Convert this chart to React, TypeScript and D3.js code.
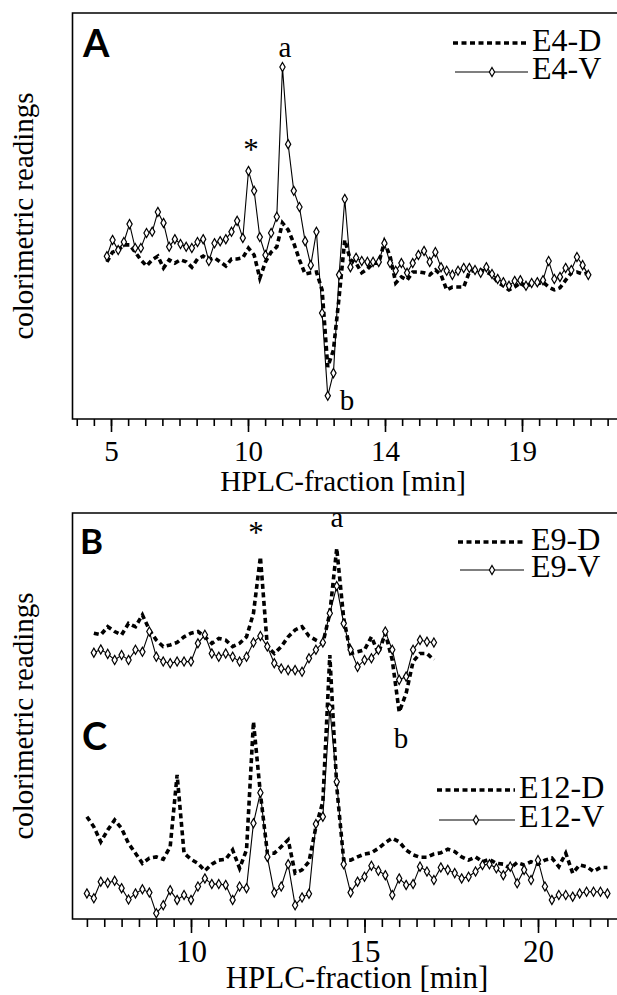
import * as d3 from 'd3'
import React, { useRef, useEffect } from 'react'

// colorimetric readings of HPLC fractions (arbitrary units, 0-100 per panel)
// panel A: E4 dorsal / ventral
const e4Start = 4.85
const e4Step = 0.2067
const e4D = [38.7, 41.1, 41.6, 42.9, 42.9, 41.1, 39.2, 37.7, 39.2, 40.1,
  37.2, 39.2, 38.4, 39.2, 38.7, 37.4, 39.4, 40.1, 39.2, 39.7,
  38.7, 37.7, 39.4, 39.4, 39.7, 42.1, 40.4, 34.7, 38.7, 41.1,
  42.4, 48.3, 46.6, 43.3, 39.2, 35.7, 36.0, 36.2, 31.8, 12.8,
  17.0, 30.0, 44.1, 39.2, 38.4, 36.0, 36.9, 38.4, 38.4, 43.6,
  40.1, 33.5, 35.0, 34.2, 36.2, 36.2, 36.0, 35.5, 36.7, 35.5,
  31.8, 32.5, 32.5, 32.5, 36.2, 36.7, 36.7, 36.2, 35.5, 33.7,
  32.8, 31.8, 32.5, 33.5, 32.5, 33.5, 33.3, 33.7, 32.5, 31.8,
  32.3, 34.2, 36.0, 36.2, 35.7, 36.0]
const e4V = [40.1, 44.1, 41.6, 43.6, 48.0, 42.1, 42.1, 45.8, 46.1, 51.0,
  48.3, 42.4, 44.3, 43.1, 42.4, 42.1, 43.6, 44.3, 38.9, 43.3,
  43.8, 44.3, 46.1, 48.8, 44.6, 61.1, 56.2, 44.8, 40.4, 45.8,
  49.8, 86.7, 67.7, 56.2, 52.2, 43.8, 37.9, 46.1, 26.1, 5.7,
  11.3, 35.5, 54.2, 37.4, 39.7, 38.9, 38.7, 38.7, 38.7, 43.3,
  38.4, 36.5, 38.4, 36.0, 38.4, 40.4, 41.4, 38.7, 41.1, 37.4,
  36.5, 35.5, 36.5, 37.2, 37.2, 36.7, 36.0, 37.4, 35.7, 34.5,
  33.7, 32.8, 34.0, 34.2, 32.8, 33.5, 33.7, 34.2, 38.9, 34.5,
  35.0, 37.2, 36.7, 39.9, 37.9, 35.5]

// panels B and C share one frame, fractions every 0.2 min
const fractionStep = 0.2
const e9Start = 7.2
const e9D = [70.4, 70.0, 72.0, 70.8, 70.0, 72.8, 72.0, 74.9, 71.2, 68.7,
  67.1, 67.5, 68.1, 69.5, 70.4, 70.8, 69.5, 67.9, 69.1, 68.7,
  67.1, 67.9, 69.5, 75.3, 89.2, 67.1, 65.4, 67.1, 69.5, 71.2,
  72.0, 69.7, 68.7, 67.9, 75.3, 91.3, 74.1, 65.4, 65.8, 66.3,
  69.5, 65.4, 70.4, 63.8, 51.0, 55.6, 63.4, 65.4, 65.4, 63.8]
const e9V = [65.6, 66.4, 65.3, 63.8, 65.0, 63.8, 66.3, 65.8, 70.8, 64.6,
  63.4, 63.0, 63.4, 63.4, 63.4, 67.9, 70.0, 65.4, 64.6, 65.4,
  64.6, 63.4, 64.6, 68.1, 69.7, 67.1, 63.0, 61.7, 61.3, 61.3,
  60.9, 64.2, 66.3, 68.1, 75.3, 82.0, 72.8, 66.3, 62.1, 63.8,
  64.2, 66.3, 70.8, 66.3, 58.9, 59.7, 66.3, 68.7, 68.3, 68.1]
const e12Start = 7.0
const e12D = [25.2, 22.7, 19.0, 21.9, 24.4, 22.3, 18.6, 16.2, 13.7, 15.0,
  15.3, 14.7, 17.8, 35.5, 16.2, 14.7, 13.7, 11.9, 13.5, 14.5,
  14.7, 17.0, 12.5, 17.0, 48.6, 30.9, 16.3, 16.2, 17.8, 19.5,
  11.3, 12.1, 14.1, 22.7, 28.9, 65.0, 32.6, 14.5, 14.5, 15.3,
  16.0, 16.3, 17.4, 18.8, 19.9, 19.0, 17.0, 15.8, 15.2, 15.2,
  16.0, 16.3, 17.2, 16.6, 15.3, 14.5, 15.3, 14.1, 14.7, 13.7,
  13.5, 12.5, 13.9, 13.3, 14.1, 13.5, 14.5, 15.0, 12.9, 16.2,
  11.3, 13.3, 12.9, 11.7, 12.7, 12.7]
const e12V = [6.3, 5.1, 9.2, 8.9, 9.4, 7.6, 4.8, 6.3, 7.3, 6.5,
  1.4, 3.4, 7.1, 4.7, 5.9, 4.7, 8.0, 10.0, 8.6, 8.6,
  8.4, 4.7, 8.0, 7.6, 23.6, 31.1, 15.3, 6.5, 8.0, 13.5,
  3.4, 5.3, 6.2, 23.4, 25.2, 51.9, 33.8, 13.5, 6.5, 9.2,
  10.4, 13.1, 11.9, 10.8, 5.9, 10.0, 8.4, 8.6, 12.9, 11.7,
  9.6, 12.7, 12.1, 11.3, 10.0, 10.4, 11.7, 13.3, 13.5, 12.5,
  10.8, 12.9, 8.8, 12.1, 9.6, 14.5, 8.0, 4.7, 5.9, 5.9,
  5.5, 6.3, 6.7, 6.7, 6.7, 6.3]

// axis ticks
const topMajor = [5, 10, 15, 20]
const topMajorLabels = ['5', '10', '14', '19']
const topMinor = d3.range(3.75, 23.4, 0.625)
const bottomMajor = [10, 15, 20]
const bottomMinor = d3.range(7, 22.3, 0.5)

const W = 617
const H = 995
const serif = '"Liberation Serif", "Times New Roman", Times, serif'
const sans = 'Lato, "DejaVu Sans", sans-serif'

const App = () => {
  const ref = useRef<SVGSVGElement>(null)

  useEffect(() => {
    const svg = d3.select(ref.current)
    svg.selectAll('*').remove()

    const xA = d3.scaleLinear().domain([5, 20]).range([111, 522])
    const yA = d3.scaleLinear().domain([0, 100]).range([419, 13])
    const xB = d3.scaleLinear().domain([10, 20]).range([191, 538])
    const yB = d3.scaleLinear().domain([0, 100]).range([919, 513])

    // frames, the right side runs off the page
    const frame = (top: number, bottom: number) =>
      svg.append('path')
        .attr('d', `M${W + 30},${top}H72.5V${bottom}H${W + 30}`)
        .attr('fill', 'none').attr('stroke', '#000').attr('stroke-width', 1.6)
    frame(13, 419)
    frame(513, 919)

    const axis = (x: any, y0: number, minor: number[], major: number[], labels: string[],
      minorLen: number, majorLen: number, fs: number, labelY: number) => {
      const gMinor = svg.append('g').attr('transform', `translate(0,${y0})`)
        .call(d3.axisBottom(x).tickValues(minor).tickSize(minorLen).tickFormat(() => ''))
      gMinor.select('.domain').remove()
      gMinor.selectAll('line').attr('stroke-width', 1.6)
      const gMajor = svg.append('g').attr('transform', `translate(0,${y0})`)
        .call(d3.axisBottom(x).tickValues(major).tickSize(majorLen)
          .tickFormat((_d: any, i: number) => labels[i]))
      gMajor.select('.domain').remove()
      gMajor.selectAll('line').attr('stroke-width', 1.6)
      gMajor.selectAll('text')
        .attr('y', labelY).attr('dy', 0)
        .attr('font-size', fs).attr('font-family', serif).attr('fill', '#000')
    }
    axis(xA, 419, topMinor, topMajor, topMajorLabels, 7, 13, 29, 42)
    axis(xB, 919, bottomMinor, bottomMajor, bottomMajor.map(String), 8, 14, 31, 43)

    const diamond = d3.symbol(d3.symbolDiamond, 24)

    const pair = (x: any, y: any, start: number, step: number, dVals: number[], vVals: number[]) => {
      const line = d3.line<number>().x((_d, i) => x(start + i * step)).y(d => y(d))
      svg.append('path').datum(dVals).attr('d', line)
        .attr('fill', 'none').attr('stroke', '#000')
        .attr('stroke-width', 3.6).attr('stroke-dasharray', '5,3.5')
      svg.append('path').datum(vVals).attr('d', line)
        .attr('fill', 'none').attr('stroke', '#000').attr('stroke-width', 1.1)
      svg.append('g').selectAll('path').data(vVals).join('path')
        .attr('transform', (d, i) => `translate(${x(start + i * step)},${y(d)})`)
        .attr('d', diamond)
        .attr('fill', '#fff').attr('stroke', '#000').attr('stroke-width', 1.2)
    }
    pair(xA, yA, e4Start, e4Step, e4D, e4V)
    pair(xB, yB, e9Start, fractionStep, e9D, e9V)
    pair(xB, yB, e12Start, fractionStep, e12D, e12V)

    const legend = (x1: number, x2: number, yD: number, yV: number, mx: number, tx: number,
      labelD: string, labelV: string) => {
      svg.append('line').attr('x1', x1).attr('x2', x2).attr('y1', yD).attr('y2', yD)
        .attr('stroke', '#000').attr('stroke-width', 3.6).attr('stroke-dasharray', '5,3.5')
      svg.append('line').attr('x1', x1 + 2).attr('x2', x2).attr('y1', yV).attr('y2', yV)
        .attr('stroke', '#000').attr('stroke-width', 1.1)
      svg.append('path').attr('transform', `translate(${mx},${yV})`).attr('d', diamond)
        .attr('fill', '#fff').attr('stroke', '#000').attr('stroke-width', 1.2)
      const t = (s: string, yy: number) => svg.append('text').attr('x', tx).attr('y', yy)
        .attr('font-family', serif).attr('font-size', 32).text(s)
      t(labelD, yD + 8)
      t(labelV, yV + 7)
    }
    legend(453, 528, 43, 72, 492, 532, 'E4-D', 'E4-V')
    legend(458, 524, 542, 570, 492, 531, 'E9-D', 'E9-V')
    legend(437, 515, 790, 820, 476, 519, 'E12-D', 'E12-V')

    const label = (s: string, x: number, y: number, fs: number, family: string,
      anchor = 'middle', weight = 'normal') =>
      svg.append('text').attr('x', x).attr('y', y).attr('font-size', fs)
        .attr('font-family', family).attr('font-weight', weight)
        .attr('text-anchor', anchor).text(s)

    // panel letters
    label('A', 83, 57, 38, sans, 'start', 'bold')
    label('B', 80, 554, 35, sans, 'start', 'bold')
    label('C', 82, 750, 38, sans, 'start', 'bold')

    // peak annotations
    label('*', 251, 160, 31, serif)
    label('a', 285, 57, 29, serif)
    label('b', 347, 410, 29, serif)
    label('*', 256, 543, 31, serif)
    label('a', 337, 527, 29, serif)
    label('b', 401, 748, 29, serif)

    // axis titles
    label('HPLC-fraction [min]', 343, 491, 29, serif)
    label('HPLC-fraction [min]', 357, 988, 31, serif)
    svg.append('text').attr('transform', 'translate(33,216) rotate(-90)')
      .attr('text-anchor', 'middle').attr('font-family', serif).attr('font-size', 29)
      .text('colorimetric readings')
    svg.append('text').attr('transform', 'translate(33,716) rotate(-90)')
      .attr('text-anchor', 'middle').attr('font-family', serif).attr('font-size', 29)
      .text('colorimetric readings')
  }, [])

  return (
    <svg ref={ref} width={W} height={H}
      style={{ position: 'absolute', left: 0, top: 0, background: '#fff', display: 'block' }} />
  )
}

export default App
